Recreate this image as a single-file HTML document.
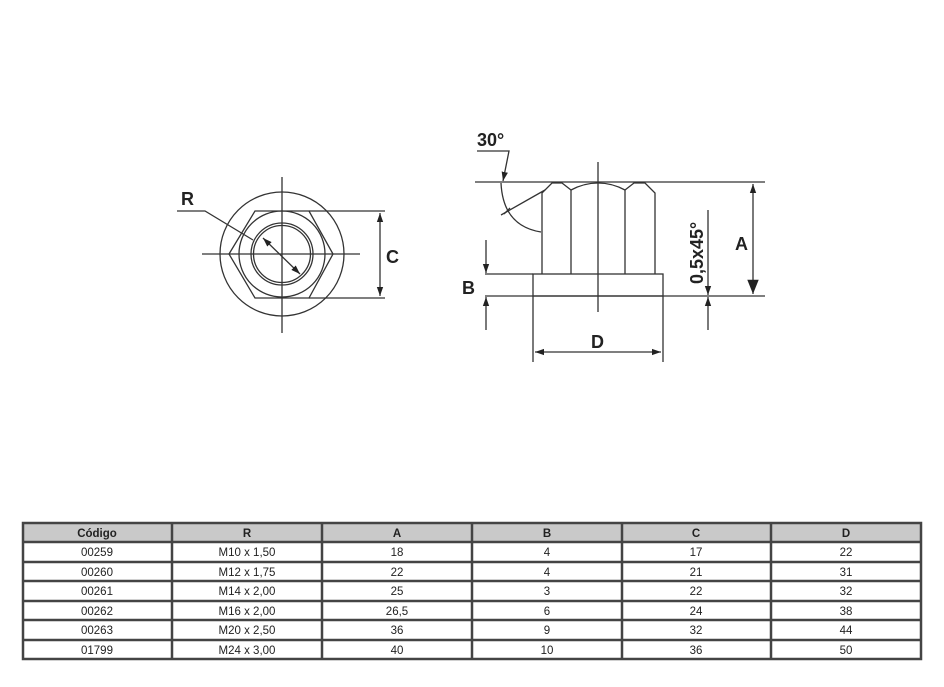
<!DOCTYPE html>
<html><head><meta charset="utf-8"><style>
html,body{margin:0;padding:0;background:#fff;width:944px;height:687px;overflow:hidden}
svg text{font-family:"Liberation Sans",sans-serif}
</style></head><body>
<svg width="944" height="687" viewBox="0 0 944 687" xmlns="http://www.w3.org/2000/svg">
<defs>
<marker id="a" viewBox="0 0 10 10" refX="10" refY="5" markerWidth="7" markerHeight="7" orient="auto-start-reverse"><path d="M0,1.5 L10,5 L0,8.5 z" fill="#222"/></marker>
<marker id="b" viewBox="0 0 10 10" refX="10" refY="5" markerWidth="14" markerHeight="11" orient="auto"><path d="M0,1 L10,5 L0,9 z" fill="#222"/></marker>
</defs>
<g stroke="#333" stroke-width="1.3" fill="none">
<line x1="282" y1="177" x2="282" y2="333"/>
<line x1="202" y1="254" x2="360" y2="254"/>
<circle cx="282" cy="254" r="62"/>
<circle cx="282" cy="254" r="43"/>
<circle cx="282" cy="254" r="31"/>
<circle cx="282" cy="254" r="28.5"/>
<polygon points="229,254 255,211 309,211 333,254 309,298 255,298"/>
<line x1="309" y1="211" x2="385" y2="211"/>
<line x1="309" y1="298" x2="385" y2="298"/>
<line x1="380" y1="213" x2="380" y2="296" marker-start="url(#a)" marker-end="url(#a)"/>
<polyline points="177,211 205,211 253,240"/>
<line x1="263" y1="238" x2="300" y2="274" marker-start="url(#a)" marker-end="url(#a)"/>
<line x1="475" y1="182" x2="765" y2="182"/>
<line x1="485" y1="296" x2="765" y2="296"/>
<line x1="598" y1="162" x2="598" y2="312"/>
<path d="M542,274 L542,193 L552,183 L562,183 L571,190 Q584,183 598,183 Q612,183 625,190 L634,183 L645,183 L655,193 L655,274"/>
<line x1="571" y1="190" x2="571" y2="274"/>
<line x1="625" y1="190" x2="625" y2="274"/>
<rect x="533" y="274" width="130" height="22"/>
<line x1="485" y1="274" x2="533" y2="274"/>
<line x1="533" y1="296" x2="533" y2="362"/>
<line x1="663" y1="296" x2="663" y2="362"/>
<line x1="535" y1="352" x2="661" y2="352" marker-start="url(#a)" marker-end="url(#a)"/>
<line x1="486" y1="240" x2="486" y2="273" marker-end="url(#a)"/>
<line x1="486" y1="330" x2="486" y2="297" marker-end="url(#a)"/>
<line x1="708" y1="210" x2="708" y2="295" marker-end="url(#a)"/>
<line x1="708" y1="330" x2="708" y2="297" marker-end="url(#a)"/>
<line x1="753" y1="184" x2="753" y2="294" marker-start="url(#a)" marker-end="url(#b)"/>
<polyline points="477,151 509,151 503,181" marker-end="url(#a)"/>
<path d="M501,183 Q503,226 541,232"/>
<line x1="501" y1="215" x2="545" y2="190"/>
<line x1="510" y1="208" x2="504" y2="214"/>
</g>
<g fill="#222" font-size="18" font-weight="bold">
<text x="181" y="205">R</text>
<text x="386" y="263">C</text>
<text x="477" y="146">30°</text>
<text x="462" y="294">B</text>
<text x="591" y="348">D</text>
<text x="735" y="250">A</text>
<text transform="translate(703,284) rotate(-90)">0,5x45°</text>
</g>
<g font-size="11.5" fill="#222" text-anchor="middle">
<rect x="23" y="523" width="898" height="19" fill="#c9c9c9"/>
<g stroke="#444" stroke-width="2.5" fill="none">
<rect x="23" y="523" width="898" height="136"/>
<line x1="23" y1="542" x2="921" y2="542"/>
<line x1="23" y1="562" x2="921" y2="562"/>
<line x1="23" y1="581" x2="921" y2="581"/>
<line x1="23" y1="601" x2="921" y2="601"/>
<line x1="23" y1="620" x2="921" y2="620"/>
<line x1="23" y1="640" x2="921" y2="640"/>
<line x1="172" y1="523" x2="172" y2="659"/>
<line x1="322" y1="523" x2="322" y2="659"/>
<line x1="472" y1="523" x2="472" y2="659"/>
<line x1="622" y1="523" x2="622" y2="659"/>
<line x1="771" y1="523" x2="771" y2="659"/>
</g>
<g font-weight="bold">
<text x="97" y="537">Código</text><text x="247" y="537">R</text><text x="397" y="537">A</text><text x="547" y="537">B</text><text x="696" y="537">C</text><text x="846" y="537">D</text>
</g>
<text x="97" y="556">00259</text><text x="247" y="556">M10 x 1,50</text><text x="397" y="556">18</text><text x="547" y="556">4</text><text x="696" y="556">17</text><text x="846" y="556">22</text>
<text x="97" y="576">00260</text><text x="247" y="576">M12 x 1,75</text><text x="397" y="576">22</text><text x="547" y="576">4</text><text x="696" y="576">21</text><text x="846" y="576">31</text>
<text x="97" y="595">00261</text><text x="247" y="595">M14 x 2,00</text><text x="397" y="595">25</text><text x="547" y="595">3</text><text x="696" y="595">22</text><text x="846" y="595">32</text>
<text x="97" y="615">00262</text><text x="247" y="615">M16 x 2,00</text><text x="397" y="615">26,5</text><text x="547" y="615">6</text><text x="696" y="615">24</text><text x="846" y="615">38</text>
<text x="97" y="634">00263</text><text x="247" y="634">M20 x 2,50</text><text x="397" y="634">36</text><text x="547" y="634">9</text><text x="696" y="634">32</text><text x="846" y="634">44</text>
<text x="97" y="654">01799</text><text x="247" y="654">M24 x 3,00</text><text x="397" y="654">40</text><text x="547" y="654">10</text><text x="696" y="654">36</text><text x="846" y="654">50</text>
</g>
</svg>
</body></html>
